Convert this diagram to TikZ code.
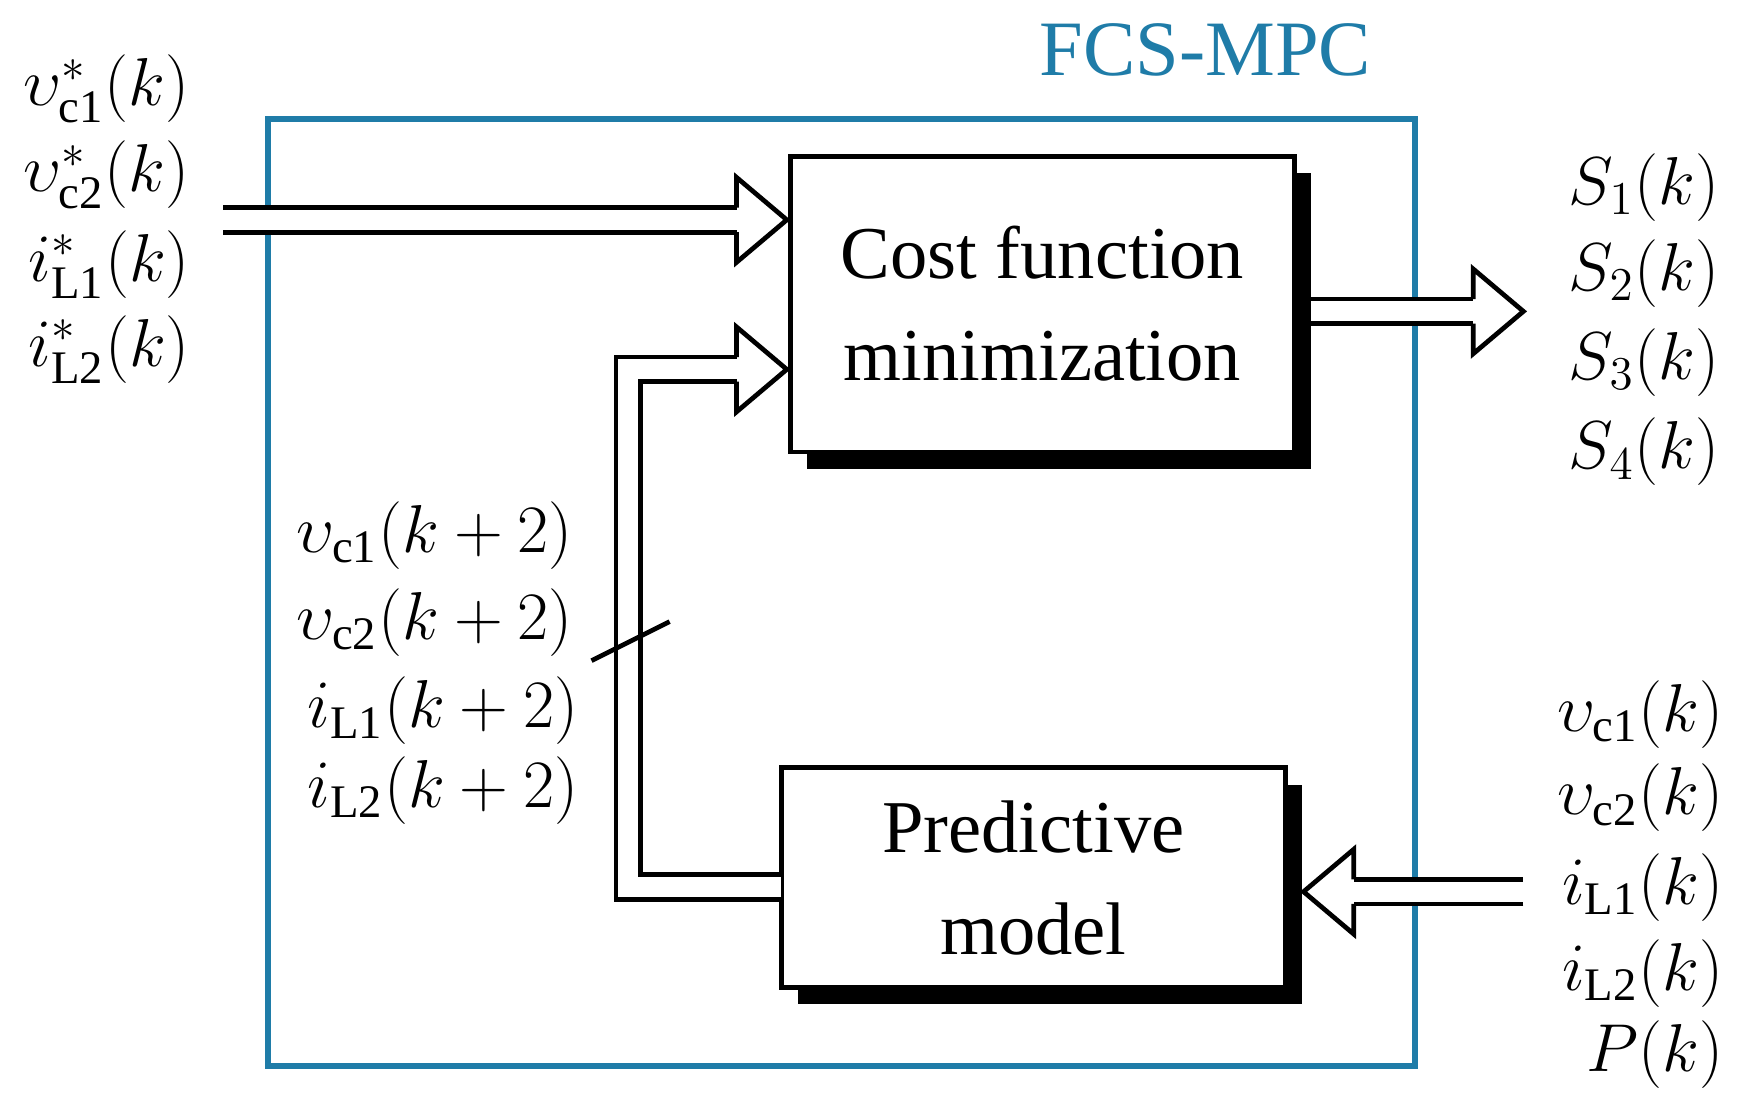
\documentclass[tikz,border=0pt]{standalone}
\usepackage{amsmath}
\usepackage{fontspec}
\setmainfont{Liberation Serif}
\usetikzlibrary{shadows}
\definecolor{mpcblue}{RGB}{31,124,168}

\begin{document}
\begin{tikzpicture}[line width=1.2pt]
\tikzset{block/.style = {draw,fill=white,minimum width=4.52cm,align=center,
  font=\fontsize{19}{26}\selectfont,
  drop shadow={shadow xshift=.15cm,shadow yshift=-.15cm,fill=black,opacity=1}}}
\tikzset{bus/.style = {double=white,double distance=.18cm,line join=miter}}
\tikzset{lbl/.style = {font=\fontsize{17}{19}\selectfont,inner sep=1pt}}
\tikzset{hollow/.pic = {\draw[line join=miter] (-.45,.11) -- (-.45,.38) -- (0,0) -- (-.45,-.38) -- (-.45,-.11);}}
\useasboundingbox (0,0) rectangle (15.6,-9.88);

% frame
\node[draw=mpcblue,line width=1.5pt,minimum width=10.28cm,minimum height=8.48cm] (mpc) at (7.54,-5.31) {};
\node[text=mpcblue,font=\fontsize{20}{24}\selectfont] (title) at (10.8,-0.45) {FCS-MPC};

% blocks
\node[block,minimum height=2.65cm] (cost) at (9.34,-2.725) {Cost function\\minimization};
\node[block,minimum height=1.97cm] (pred) at (9.26,-7.865) {Predictive\\model};

% coordinates
\coordinate (in1) at (2.0,-1.97);
\coordinate (h1) at (6.6,-1.97);
\coordinate (t1) at (7.05,-1.97);
\coordinate (p1) at (7.0,-7.95);
\coordinate (h2) at (6.6,-3.31);
\coordinate (t2) at (7.05,-3.31);
\coordinate (o1) at (11.75,-2.79);
\coordinate (h3) at (13.2,-2.79);
\coordinate (t3) at (13.65,-2.79);
\coordinate (i4) at (13.65,-7.99);
\coordinate (h4) at (12.13,-7.99);
\coordinate (t4) at (11.68,-7.99);

% buses
\draw[bus] (in1) -- (h1);
\pic at (t1) {hollow};
\draw[bus] (p1) -- (5.63,-7.95) -- (5.63,-3.31) -- (h2);
\pic at (t2) {hollow};
\draw[bus] (o1) -- (h3);
\pic at (t3) {hollow};
\draw[bus] (i4) -- (h4);
\pic[rotate=180] at (t4) {hollow};
\draw (5.3,-5.92) -- (6.0,-5.57);

% labels
\node[lbl,anchor=west] (r1) at (0.15,-0.80) {$\upsilon^*_{\mathrm{c1}}(k)$};
\node[lbl,anchor=west] (r2) at (0.15,-1.57) {$\upsilon^*_{\mathrm{c2}}(k)$};
\node[lbl,anchor=west] (r3) at (0.2,-2.37) {$i^*_{\mathrm{L1}}(k)$};
\node[lbl,anchor=west] (r4) at (0.2,-3.13) {$i^*_{\mathrm{L2}}(k)$};

\node[lbl,anchor=west] (s1) at (14.0,-1.68) {$S_1(k)$};
\node[lbl,anchor=west] (s2) at (14.0,-2.45) {$S_2(k)$};
\node[lbl,anchor=west] (s3) at (14.0,-3.25) {$S_3(k)$};
\node[lbl,anchor=west] (s4) at (14.0,-4.05) {$S_4(k)$};

\node[lbl,anchor=west] (x1) at (2.6,-4.80) {$\upsilon_{\mathrm{c1}}(k+2)$};
\node[lbl,anchor=west] (x2) at (2.6,-5.58) {$\upsilon_{\mathrm{c2}}(k+2)$};
\node[lbl,anchor=west] (x3) at (2.7,-6.37) {$i_{\mathrm{L1}}(k+2)$};
\node[lbl,anchor=west] (x4) at (2.7,-7.08) {$i_{\mathrm{L2}}(k+2)$};

\node[lbl,anchor=east] (m1) at (15.5,-6.40) {$\upsilon_{\mathrm{c1}}(k)$};
\node[lbl,anchor=east] (m2) at (15.5,-7.15) {$\upsilon_{\mathrm{c2}}(k)$};
\node[lbl,anchor=east] (m3) at (15.5,-7.95) {$i_{\mathrm{L1}}(k)$};
\node[lbl,anchor=east] (m4) at (15.5,-8.72) {$i_{\mathrm{L2}}(k)$};
\node[lbl,anchor=east] (m5) at (15.5,-9.45) {$P(k)$};
\end{tikzpicture}
\end{document}
